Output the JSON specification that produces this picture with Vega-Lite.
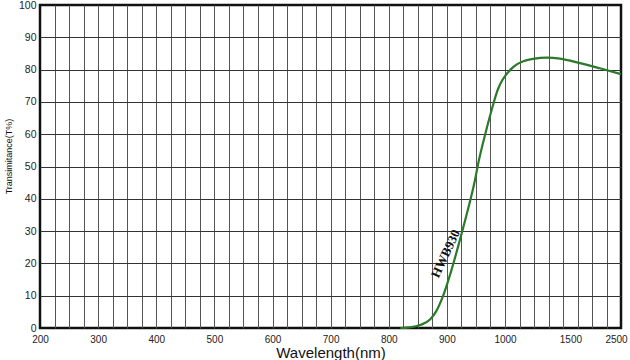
{
  "$schema": "https://vega.github.io/schema/vega-lite/v6.json",
  "width": 581,
  "height": 323,
  "autosize": "none",
  "padding": {"left": 40, "top": 5, "right": 9, "bottom": 32},
  "background": "white",
  "config": {
    "view": {"stroke": "#111", "strokeWidth": 2.5},
    "axis": {"domain": false, "ticks": false, "labelFont": "Liberation Sans", "titleFont": "Liberation Sans", "labelColor": "#222", "titleColor": "#111", "titleFontWeight": "normal", "gridOpacity": 1}
  },
  "datasets": {
    "curve": [
      {"wavelength": 820, "T": 0},
      {"wavelength": 836, "T": 0.2},
      {"wavelength": 855, "T": 1.0},
      {"wavelength": 871, "T": 2.6},
      {"wavelength": 882, "T": 5.3},
      {"wavelength": 893, "T": 9.7},
      {"wavelength": 908, "T": 18},
      {"wavelength": 922, "T": 27},
      {"wavelength": 936, "T": 36.5},
      {"wavelength": 948, "T": 45.5},
      {"wavelength": 954, "T": 51},
      {"wavelength": 966, "T": 60},
      {"wavelength": 977, "T": 67.5},
      {"wavelength": 988, "T": 74},
      {"wavelength": 995, "T": 76.6},
      {"wavelength": 1000, "T": 78},
      {"wavelength": 1020, "T": 79.0},
      {"wavelength": 1050, "T": 80.3},
      {"wavelength": 1090, "T": 81.6},
      {"wavelength": 1140, "T": 82.6},
      {"wavelength": 1214, "T": 83.3},
      {"wavelength": 1319, "T": 83.7},
      {"wavelength": 1420, "T": 83.4},
      {"wavelength": 1689, "T": 82},
      {"wavelength": 2081, "T": 80.4},
      {"wavelength": 2500, "T": 78.6}
    ],
    "label": [{"wavelength": 898, "T": 23, "name": "HWB930"}]
  },
  "encoding": {
    "x": {
      "field": "wavelength", "type": "quantitative",
      "scale": {"domain": [200, 1000, 1500, 2500], "range": [0, 465, 530.4, 581], "nice": false, "zero": false},
      "axis": {
        "title": "Wavelength(nm)",
        "titleFontSize": 15,
        "titleY": 29,
        "titleBaseline": "alphabetic",
        "values": [200, 225, 250, 275, 300, 325, 350, 375, 400, 425, 450, 475, 500, 525, 550, 575, 600, 625, 650, 675, 700, 725, 750, 775, 800, 825, 850, 875, 900, 925, 950, 975, 1000, 1111.1, 1222.2, 1333.3, 1444.4, 1500, 1642.9, 1928.6, 2214.3, 2500],
        "format": "d",
        "labelExpr": "((datum.value <= 1000 && datum.value % 100 == 0) || datum.value == 1500 || datum.value == 2500) ? datum.label : ''",
        "labelFontSize": 10,
        "labelPadding": 6,
        "labelOverlap": false,
        "labelFlush": false,
        "labelOffset": {"condition": {"test": "datum.value == 2500", "value": -5}, "value": 0},
        "grid": true,
        "gridColor": "#555",
        "gridWidth": 1,
        "gridOpacity": {"condition": {"test": "datum.value == 200 || datum.value == 1500 || datum.value == 2500", "value": 0}, "value": 1}
      }
    },
    "y": {
      "field": "T", "type": "quantitative",
      "scale": {"domain": [0, 100], "nice": false},
      "axis": {
        "title": "Transimitance(T%)",
        "titleFontSize": 9,
        "titleX": -32,
        "titleY": 151,
        "titleBaseline": "middle",
        "values": [0, 10, 20, 30, 40, 50, 60, 70, 80, 90, 100],
        "labelFontSize": 10.5,
        "labelPadding": 4,
        "grid": true,
        "gridColor": "#333",
        "gridWidth": 1,
        "gridOpacity": {"condition": {"test": "datum.value == 0 || datum.value == 100", "value": 0}, "value": 1}
      }
    }
  },
  "layer": [
    {
      "data": {"name": "curve"},
      "mark": {"type": "line", "interpolate": "monotone", "color": "#2a7a2a", "strokeWidth": 2.2}
    },
    {
      "data": {"name": "label"},
      "mark": {"type": "text", "angle": -65, "font": "Liberation Serif", "fontWeight": "bold", "fontSize": 13, "color": "#111", "align": "center", "baseline": "middle"},
      "encoding": {
        "text": {"field": "name"}
      }
    }
  ]
}
